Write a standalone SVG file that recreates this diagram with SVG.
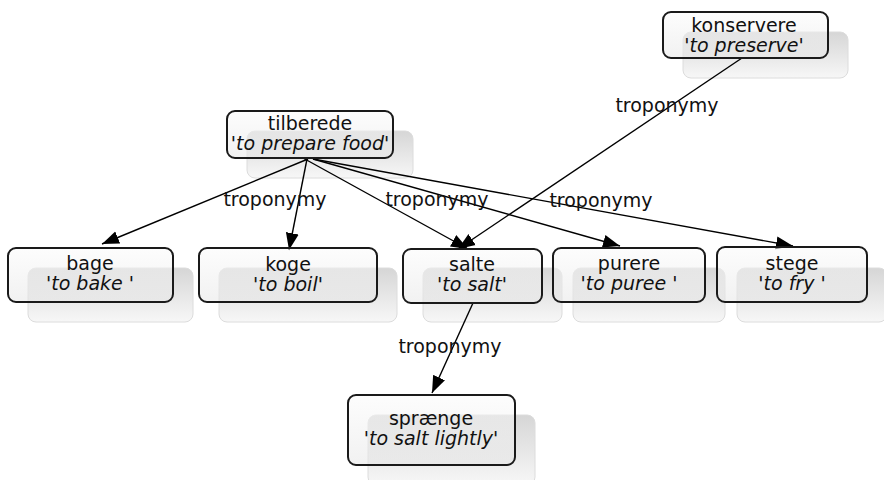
<svg xmlns="http://www.w3.org/2000/svg" width="884" height="480" viewBox="0 0 884 480">
<defs>
<linearGradient id="sh" x1="0" y1="0" x2="0" y2="1">
<stop offset="0" stop-color="#d6d6d6"/>
<stop offset="1" stop-color="#f7f7f7"/>
</linearGradient>
<linearGradient id="bx" x1="0" y1="0" x2="0" y2="1">
<stop offset="0" stop-color="#fbfbfb"/>
<stop offset="1" stop-color="#e6e6e6"/>
</linearGradient>
<marker id="ah" markerUnits="userSpaceOnUse" markerWidth="18" markerHeight="14" refX="17" refY="7" orient="auto">
<path d="M0,0.5 L17,7 L0,13.5 Z" fill="#000"/>
</marker>
</defs>
<style>
.shadow{fill:url(#sh);stroke:#dcdcdc;stroke-width:1}
.box{fill:url(#bx);fill-opacity:0.55;stroke:#1a1a1a;stroke-width:2}
.t{font-family:"DejaVu Sans",Verdana,sans-serif;font-size:19px;fill:#111;text-anchor:middle}
.i{font-style:italic}
.e{stroke:#000;stroke-width:1.4;fill:none;marker-end:url(#ah)}
.lbl{font-family:"DejaVu Sans",Verdana,sans-serif;font-size:19px;fill:#111;text-anchor:middle}
</style>
<rect width="884" height="480" fill="#fff"/>
<g id="shadows">
<rect class="shadow" x="683" y="32" width="165" height="46" rx="8"/>
<rect class="shadow" x="247" y="131" width="166" height="47" rx="8"/>
<rect class="shadow" x="28" y="268" width="165" height="54" rx="8"/>
<rect class="shadow" x="219" y="268" width="178" height="54" rx="8"/>
<rect class="shadow" x="423" y="268" width="139" height="54" rx="8"/>
<rect class="shadow" x="573" y="268" width="152" height="54" rx="8"/>
<rect class="shadow" x="737" y="268" width="150" height="54" rx="8"/>
<rect class="shadow" x="368" y="415" width="167" height="70" rx="8"/>
</g>
<g id="connectors">
<line class="e" x1="742" y1="58" x2="458" y2="249"/>
<line class="e" x1="308" y1="159" x2="102" y2="244"/>
<line class="e" x1="307" y1="159" x2="289" y2="250"/>
<line class="e" x1="303" y1="158" x2="468" y2="249"/>
<line class="e" x1="313" y1="159" x2="620" y2="246"/>
<line class="e" x1="313" y1="159" x2="793" y2="246"/>
<line class="e" x1="473" y1="303" x2="432" y2="393"/>
<text class="lbl" x="275" y="206">troponymy</text>
<text class="lbl" x="437" y="206">troponymy</text>
<text class="lbl" x="601" y="207">troponymy</text>
<text class="lbl" x="667" y="112">troponymy</text>
<text class="lbl" x="450" y="353">troponymy</text>
</g>
<g id="konservere">
<rect class="box" x="663" y="12" width="165" height="46" rx="8"/>
<text class="t" x="744" y="32">konservere</text>
<text class="t i" x="744" y="52">'to preserve'</text>
</g>
<g id="tilberede">
<rect class="box" x="227" y="111" width="166" height="47" rx="8"/>
<text class="t" x="310" y="130">tilberede</text>
<text class="t i" x="310" y="150">'to prepare food'</text>
</g>
<g id="bage">
<rect class="box" x="8" y="248" width="165" height="54" rx="8"/>
<text class="t" x="90" y="270">bage</text>
<text class="t i" x="90" y="290">'to bake '</text>
</g>
<g id="koge">
<rect class="box" x="199" y="248" width="178" height="54" rx="8"/>
<text class="t" x="288" y="271">koge</text>
<text class="t i" x="288" y="291">'to boil'</text>
</g>
<g id="salte">
<rect class="box" x="403" y="249" width="139" height="54" rx="8"/>
<text class="t" x="472" y="271">salte</text>
<text class="t i" x="472" y="291">'to salt'</text>
</g>
<g id="purere">
<rect class="box" x="553" y="248" width="152" height="54" rx="8"/>
<text class="t" x="629" y="270">purere</text>
<text class="t i" x="629" y="290">'to puree '</text>
</g>
<g id="stege">
<rect class="box" x="717" y="247" width="150" height="55" rx="8"/>
<text class="t" x="792" y="270">stege</text>
<text class="t i" x="792" y="290">'to fry '</text>
</g>
<g id="spraenge">
<rect class="box" x="348" y="395" width="167" height="70" rx="8"/>
<text class="t" x="431" y="425">sprænge</text>
<text class="t i" x="431" y="445">'to salt lightly'</text>
</g>
</svg>
